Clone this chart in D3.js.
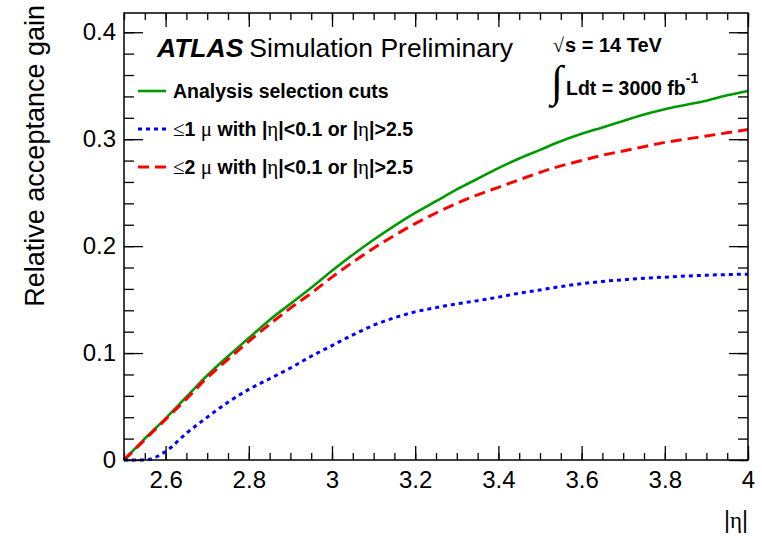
<!DOCTYPE html>
<html>
<head>
<meta charset="utf-8">
<script src="https://cdn.jsdelivr.net/npm/d3@7"></script>
<style>
  html, body { margin: 0; padding: 0; background: #fff; }
  svg { display: block; }
  text { font-family: "Liberation Sans", Arial, Helvetica, sans-serif; fill: #000; }
  .sym { font-family: "Liberation Serif", "DejaVu Serif", serif; font-weight: normal; }
</style>
</head>
<body>
<svg id="chart" width="762" height="536"></svg>
<script>
// |eta| sampling points
const eta = [2.50, 2.55, 2.60, 2.65, 2.70, 2.75, 2.80, 2.85, 2.90, 2.95,
             3.00, 3.05, 3.10, 3.15, 3.20, 3.25, 3.30, 3.35, 3.40, 3.45,
             3.50, 3.55, 3.60, 3.65, 3.70, 3.75, 3.80, 3.85, 3.90, 3.95, 4.00];

// Relative acceptance gain per selection
const gainAnalysis = [0.000, 0.020, 0.039, 0.059, 0.079, 0.097, 0.114, 0.131, 0.146, 0.161,
                      0.177, 0.192, 0.206, 0.219, 0.231, 0.242, 0.253, 0.263, 0.273, 0.282,
                      0.290, 0.298, 0.305, 0.311, 0.317, 0.323, 0.328, 0.332, 0.336, 0.341, 0.345];
const gainOneMu    = [0.000, 0.000, 0.008, 0.025, 0.040, 0.054, 0.066, 0.076, 0.086, 0.097,
                      0.107, 0.117, 0.126, 0.133, 0.1385, 0.1425, 0.146, 0.149, 0.1523, 0.156,
                      0.159, 0.1622, 0.1648, 0.167, 0.1685, 0.170, 0.171, 0.172, 0.1728, 0.1734, 0.1738];
const gainTwoMu    = [0.000, 0.019, 0.038, 0.057, 0.077, 0.094, 0.111, 0.127, 0.142, 0.156,
                      0.171, 0.185, 0.198, 0.210, 0.221, 0.231, 0.240, 0.248, 0.255, 0.262,
                      0.269, 0.275, 0.280, 0.285, 0.289, 0.293, 0.297, 0.300, 0.303, 0.306, 0.309];

// Axis ticks
const xMajorTicks = [2.6, 2.8, 3.0, 3.2, 3.4, 3.6, 3.8, 4.0];
const xTickLabels = ["2.6", "2.8", "3", "3.2", "3.4", "3.6", "3.8", "4"];
const yMajorTicks = [0, 0.1, 0.2, 0.3, 0.4];
const yTickLabels = ["0", "0.1", "0.2", "0.3", "0.4"];

const series = [
  { name: "analysis", values: gainAnalysis, color: "#009a00", dash: null,    width: 2.6 },
  { name: "twoMu",    values: gainTwoMu,    color: "#ff0000", dash: "11,6",  width: 3 },
  { name: "oneMu",    values: gainOneMu,    color: "#0000ff", dash: "4,4",   width: 3 }
];

const svg = d3.select("#chart");
const frame = { left: 124, right: 748, top: 13, bottom: 460 };

const x = d3.scaleLinear().domain([2.5, 4.0]).range([frame.left, frame.right]);
const y = d3.scaleLinear().domain([0, 0.418]).range([frame.bottom, frame.top]);

const xMinor = d3.range(2.5, 4.0001, 0.05).map(v => +v.toFixed(2));
const yMinor = d3.range(0, 0.4181, 0.02).map(v => +v.toFixed(2));

// Curves
const line = d3.line()
  .x((d, i) => x(eta[i]))
  .y(d => y(d))
  .curve(d3.curveMonotoneX);

const curves = svg.append("g").attr("class", "curves");
series.forEach(s => {
  curves.append("path")
    .datum(s.values)
    .attr("d", line)
    .attr("fill", "none")
    .attr("stroke", s.color)
    .attr("stroke-width", s.width)
    .attr("stroke-dasharray", s.dash)
    .attr("stroke-linejoin", "round");
});

// Axes: ticks drawn inward on all four sides
function styleAxis(g) {
  g.select(".domain").remove();
  g.selectAll(".tick line").attr("stroke", "#000").attr("stroke-width", 1.3);
}

const fmtX = d => xTickLabels[xMajorTicks.findIndex(v => Math.abs(v - d) < 1e-9)];
const fmtY = d => yTickLabels[yMajorTicks.findIndex(v => Math.abs(v - d) < 1e-9)];

svg.append("g").attr("transform", `translate(0,${frame.bottom})`)
  .call(d3.axisBottom(x).tickValues(xMinor).tickSize(-7).tickFormat(""))
  .call(styleAxis);
svg.append("g").attr("transform", `translate(0,${frame.bottom})`)
  .call(d3.axisBottom(x).tickValues(xMajorTicks).tickSize(-14).tickPadding(11).tickFormat(fmtX))
  .call(styleAxis)
  .call(g => g.selectAll("text").attr("font-size", 24).attr("fill", "#000"));
svg.append("g").attr("transform", `translate(0,${frame.top})`)
  .call(d3.axisTop(x).tickValues(xMinor).tickSize(-7).tickFormat(""))
  .call(styleAxis);
svg.append("g").attr("transform", `translate(0,${frame.top})`)
  .call(d3.axisTop(x).tickValues(xMajorTicks).tickSize(-14).tickFormat(""))
  .call(styleAxis);

svg.append("g").attr("transform", `translate(${frame.left},0)`)
  .call(d3.axisLeft(y).tickValues(yMinor).tickSize(-10).tickFormat(""))
  .call(styleAxis);
svg.append("g").attr("transform", `translate(${frame.left},0)`)
  .call(d3.axisLeft(y).tickValues(yMajorTicks).tickSize(-19).tickPadding(8).tickFormat(fmtY))
  .call(styleAxis)
  .call(g => g.selectAll("text").attr("font-size", 24).attr("fill", "#000"));
svg.append("g").attr("transform", `translate(${frame.right},0)`)
  .call(d3.axisRight(y).tickValues(yMinor).tickSize(-10).tickFormat(""))
  .call(styleAxis);
svg.append("g").attr("transform", `translate(${frame.right},0)`)
  .call(d3.axisRight(y).tickValues(yMajorTicks).tickSize(-19).tickFormat(""))
  .call(styleAxis);

// Frame
svg.append("rect")
  .attr("x", frame.left).attr("y", frame.top)
  .attr("width", frame.right - frame.left).attr("height", frame.bottom - frame.top)
  .attr("fill", "none").attr("stroke", "#000").attr("stroke-width", 1.5);

// Axis titles
svg.append("text")
  .attr("transform", `translate(44,5) rotate(-90)`)
  .attr("text-anchor", "end")
  .attr("font-size", 27)
  .text("Relative acceptance gain");

const xTitle = svg.append("text")
  .attr("x", 748).attr("y", 528)
  .attr("text-anchor", "end")
  .attr("font-size", 23);
xTitle.append("tspan").text("|");
xTitle.append("tspan").attr("class", "sym").text("η");
xTitle.append("tspan").text("|");

// ATLAS label
const atlas = svg.append("text").attr("x", 157).attr("y", 57).attr("font-size", 26.5);
atlas.append("tspan").attr("font-weight", "bold").attr("font-style", "italic").text("ATLAS");
atlas.append("tspan").attr("dx", 6).text("Simulation Preliminary");

// Legend
const legendRows = [
  { s: series[0], y: 91,  parts: [["t", "Analysis selection cuts"]] },
  { s: series[2], y: 129, parts: [["s", "≤"], ["t", "1 "], ["s", "μ"], ["t", " with |"], ["s", "η"], ["t", "|<0.1 or |"], ["s", "η"], ["t", "|>2.5"]] },
  { s: series[1], y: 167, parts: [["s", "≤"], ["t", "2 "], ["s", "μ"], ["t", " with |"], ["s", "η"], ["t", "|<0.1 or |"], ["s", "η"], ["t", "|>2.5"]] }
];
const legend = svg.append("g");
legendRows.forEach(r => {
  legend.append("line")
    .attr("x1", 138).attr("x2", 166).attr("y1", r.y).attr("y2", r.y)
    .attr("stroke", r.s.color).attr("stroke-width", r.s.width)
    .attr("stroke-dasharray", r.s.dash);
  const t = legend.append("text")
    .attr("x", 173).attr("y", r.y + 7)
    .attr("font-size", 19.5).attr("font-weight", "bold");
  r.parts.forEach(([k, str]) => {
    const sp = t.append("tspan").text(str);
    if (k === "s") sp.attr("class", "sym").attr("font-size", 21);
  });
});

// Energy and luminosity
const ecm = svg.append("text").attr("x", 553).attr("y", 52).attr("font-size", 20).attr("font-weight", "bold");
ecm.append("tspan").attr("class", "sym").text("√");
ecm.append("tspan").attr("dx", 1).text("s = 14 TeV");

svg.append("text").attr("x", 551).attr("y", 96)
  .attr("class", "sym").attr("font-size", 44).text("∫");
const lumi = svg.append("text").attr("x", 566).attr("y", 95).attr("font-size", 19.5).attr("font-weight", "bold");
lumi.append("tspan").text("Ldt = 3000 fb");
lumi.append("tspan").attr("dy", -12).attr("font-size", 14).text("-1");
</script>
</body>
</html>
